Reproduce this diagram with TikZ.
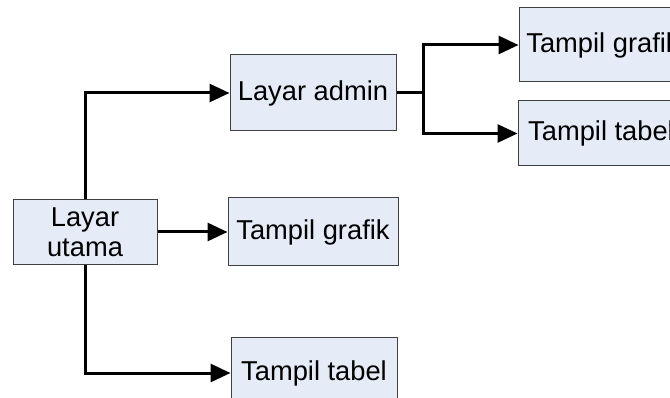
\documentclass[tikz,border=0pt]{standalone}
\usepackage{fontspec}
\setmainfont{Liberation Sans}
\usetikzlibrary{arrows.meta}
\definecolor{boxfill}{RGB}{230,236,247}
\definecolor{boxline}{RGB}{64,64,64}
\tikzset{
  menubox/.style={draw=boxline, line width=1pt, fill=boxfill, inner sep=0pt,
    align=center, font=\fontsize{27.3}{30}\selectfont},
  link/.style={line width=3pt, -{Triangle[length=20pt,width=18pt]}},
  trunk/.style={line width=3pt}
}
\begin{document}
\begin{tikzpicture}[x=1pt,y=-1pt]
\useasboundingbox (0,0) rectangle (670,398);
\clip (0,0) rectangle (670,398);
\fill[white] (0,0) rectangle (670,398);

% boxes
\node[menubox, minimum width=144pt, minimum height=65pt] (utama) at (85,232) {Layar\\utama};
\node[menubox, minimum width=166pt, minimum height=76pt] (admin) at (313,93) {Layar admin};
\node[menubox, minimum width=170pt, minimum height=68pt] (grafik) at (313,232) {Tampil grafik};
\node[menubox, minimum width=166pt, minimum height=70pt] (tabel) at (314,373) {Tampil tabel};
\node[menubox, minimum width=168pt, minimum height=74pt] (agrafik) at (603,45) {Tampil grafik};
\node[menubox, minimum width=166pt, minimum height=65pt] (atabel) at (601,133.5) {Tampil tabel};

% branch point behind the admin screen
\coordinate (split) at (423,93);

% connectors from the main screen
\draw[link] (utama.north) |- (admin.west);
\draw[link] (utama.east) -- (grafik.west);
\draw[link] (utama.south) |- (tabel.west);

% connectors from the admin screen
\draw[trunk] (admin.east) -- (split);
\draw[link] (split) |- (agrafik.west);
\draw[link] (split) |- (atabel.west);
\end{tikzpicture}
\end{document}
